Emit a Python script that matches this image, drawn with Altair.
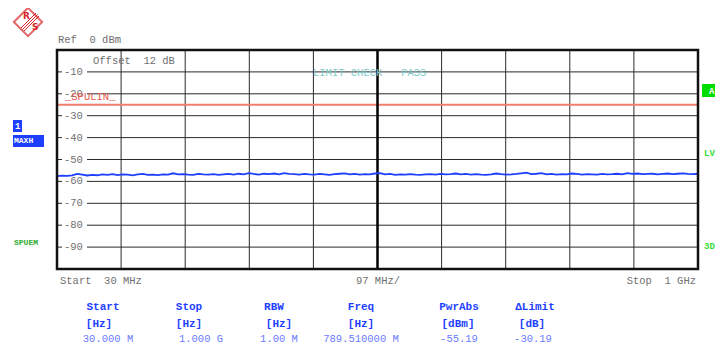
import altair as alt
import numpy as np
import pandas as pd

# ---------------- data ----------------
start_mhz = 30
stop_mhz = 1000
ref_levels = [-10, -20, -30, -40, -50, -60, -70, -80, -90]
grid_freqs = [127, 224, 321, 418, 515, 612, 709, 806, 903]
center_freq = [515]
limit_level = [-25]
trace_db = [
    -57.6, -57.4, -57.5, -57.2, -56.6, -56.9, -57.3, -57.0, -57.2, -56.8,
    -57.0, -56.7, -57.1, -56.8, -56.9, -57.2, -56.8, -56.6, -57.0, -56.9,
    -57.1, -56.8, -56.9, -56.3, -56.8, -56.7, -56.9, -57.0, -56.6, -56.8,
    -56.9, -56.7, -57.0, -56.8, -56.6, -56.9, -56.5, -56.8, -56.2, -56.6,
    -56.9, -56.5, -56.7, -56.4, -56.8, -56.2, -56.6, -56.7, -56.9, -56.6,
    -56.8, -56.9, -56.6, -56.8, -57.0, -56.7, -56.5, -56.3, -56.8, -56.6,
    -56.9, -56.7, -56.8, -56.4, -56.2, -56.8, -56.6, -57.0, -56.8, -56.9,
    -56.7, -56.9, -57.0, -56.8, -56.7, -56.9, -56.6, -56.8, -56.7, -56.4,
    -56.8, -56.6, -56.9, -56.7, -56.9, -57.0, -56.8, -56.4, -56.7, -56.9,
    -56.8, -56.6, -56.3, -56.0, -56.7, -56.5, -56.2, -56.8, -56.6, -56.9,
    -56.7, -56.8, -56.4, -56.6, -56.9, -56.7, -56.8, -56.9, -56.6, -56.8,
    -56.7, -56.5, -56.8, -56.2, -56.6, -56.4, -56.7, -56.6, -56.5, -56.8,
    -56.6, -56.4, -56.7, -56.5, -56.3, -56.6, -56.7, -56.5,
]
trace_freq = np.linspace(start_mhz, stop_mhz, len(trace_db))

table_headers = ["Start", "Stop", "RBW", "Freq", "PwrAbs", "ΔLimit"]
table_units = ["[Hz]", "[Hz]", "[Hz]", "[Hz]", "[dBm]", "[dB]"]
table_values = ["30.000 M", "1.000 G", "1.00 M", "789.510000 M", "-55.19", "-30.19"]

# ---------------- layout ----------------
W, H = 641, 219
MONO = "Liberation Mono"
GREY = "#707070"
one = pd.DataFrame({"a": [0]})

xs = alt.Scale(domain=[start_mhz, stop_mhz], nice=False, zero=False)
ys = alt.Scale(domain=[-100, 0], nice=False, zero=False)


def nb(s):
    return s.replace(" ", "\u00a0")


def label(text, x, y, color=GREY, size=10.5, weight="normal", align="left", font=MONO):
    return alt.Chart(one).mark_text(
        text=nb(text), color=color, fontSize=size, fontWeight=weight,
        align=align, baseline="middle", font=font
    ).encode(x=alt.value(x), y=alt.value(y))


def box(x, x2, y, y2, color):
    return alt.Chart(one).mark_rect(color=color).encode(
        x=alt.value(x), x2=alt.value(x2), y=alt.value(y), y2=alt.value(y2))


df_h = pd.DataFrame({"lvl": ref_levels, "lab": ["-" + str(-v) for v in ref_levels]})
df_v = pd.DataFrame({"f": grid_freqs})
df_c = pd.DataFrame({"f": center_freq})
df_lim = pd.DataFrame({"lvl": limit_level})
df_tr = pd.DataFrame({"f": trace_freq, "db": trace_db})

hgrid = alt.Chart(df_h).mark_rule(color="#2a2a2a", strokeWidth=1).encode(
    y=alt.Y("lvl:Q", scale=ys, axis=None), x=alt.value(30), x2=alt.value(W))
hticks = alt.Chart(df_h).mark_rule(color="#2a2a2a", strokeWidth=1).encode(
    y=alt.Y("lvl:Q", scale=ys, axis=None), x=alt.value(0), x2=alt.value(5))
hlabels = alt.Chart(df_h).mark_text(
    color=GREY, fontSize=10.5, font=MONO, align="left", baseline="middle"
).encode(y=alt.Y("lvl:Q", scale=ys, axis=None), x=alt.value(7), text="lab:N")

vgrid = alt.Chart(df_v).mark_rule(color="#2a2a2a", strokeWidth=1).encode(
    x=alt.X("f:Q", scale=xs, axis=None), y=alt.value(0), y2=alt.value(H))
vcenter = alt.Chart(df_c).mark_rule(color="#000000", strokeWidth=2.5).encode(
    x=alt.X("f:Q", scale=xs, axis=None), y=alt.value(0), y2=alt.value(H))

limit = alt.Chart(df_lim).mark_rule(color="#f27c6e", strokeWidth=2).encode(
    y=alt.Y("lvl:Q", scale=ys, axis=None), x=alt.value(0), x2=alt.value(W))

trace = alt.Chart(df_tr).mark_line(color="#1f3fff", strokeWidth=1.8).encode(
    x=alt.X("f:Q", scale=xs, axis=None), y=alt.Y("db:Q", scale=ys, axis=None))

frame = alt.Chart(one).mark_rect(fill=None, stroke="#111111", strokeWidth=2.5).encode(
    x=alt.value(0), x2=alt.value(W), y=alt.value(0), y2=alt.value(H))

layers = [vgrid, hgrid, hticks, hlabels, limit, vcenter, trace, frame]

# in-plot texts
layers += [
    label("Ref  0 dBm", 1, -10),
    label("Offset  12 dB", 36, 11),
    label("LIMIT CHECK   PASS", 256, 23, color="#7fcaca"),
    label("_SPULIN_", 8, 47, color="#e8584c"),
]

# left side indicators
layers += [
    box(-44, -35, 70, 82, "#1f3fff"),
    label("1", -42, 76, color="white", size=9, weight="bold"),
    box(-44, -13, 85, 97, "#1f3fff"),
    label("MAXH", -43, 91, color="white", size=8, weight="bold"),
    label("SPUEM", -43, 193, color="#2eaa2e", size=8, weight="bold"),
]

# right side indicators
layers += [
    box(645, 670, 34, 47, "#00dd00"),
    label("A", 652, 41, color="white", size=9, weight="bold"),
    label("LVL", 647, 103, color="#33dd33", size=9, weight="bold"),
    label("3DB", 647, 196, color="#33dd33", size=9, weight="bold"),
]

# R&S logo
logo_d = alt.Chart(one).mark_point(
    shape="diamond", size=800, filled=False, color="#d8262a", strokeWidth=2
).encode(x=alt.value(-29), y=alt.value(-28))
layers.append(logo_d)
for k in range(3):
    layers.append(
        alt.Chart(one).mark_rule(color="#d8262a", strokeWidth=1).encode(
            x=alt.value(-21 + k * 1.5), y=alt.value(-37 + k * 1.5),
            x2=alt.value(-36 + k * 1.5), y2=alt.value(-22 + k * 1.5))
    )
layers += [
    label("R", -34, -34, color="#d8262a", size=9, weight="bold", font="DejaVu Sans"),
    label("S", -25, -23, color="#d8262a", size=9, weight="bold", font="DejaVu Sans"),
]

# bottom axis texts
layers += [
    label("Start  30 MHz", 3, 231),
    label("97 MHz/", 321, 231, align="center"),
    label("Stop  1 GHz", 639, 231, align="right"),
]

# table
head_x = [46, 132, 217, 304, 402, 478]
unit_x = [42, 132, 222, 304, 401, 475]
val_x = [51, 144, 222, 304, 402, 476]
for t, x in zip(table_headers, head_x):
    layers.append(label(t, x, 257, color="#1f3fff", size=11, weight="bold", align="center"))
for t, x in zip(table_units, unit_x):
    layers.append(label(t, x, 274, color="#1f3fff", size=11, weight="bold", align="center"))
for t, x in zip(table_values, val_x):
    layers.append(label(t, x, 289, color="#6b7bff", size=10.5, align="center"))

chart = alt.layer(*layers).properties(
    width=W, height=H,
    padding={"left": 49, "top": 42, "right": 17, "bottom": 80},
    autosize="none",
).configure_view(stroke=None)

chart.save("out.html", embed_options={"renderer": "svg", "actions": False})
